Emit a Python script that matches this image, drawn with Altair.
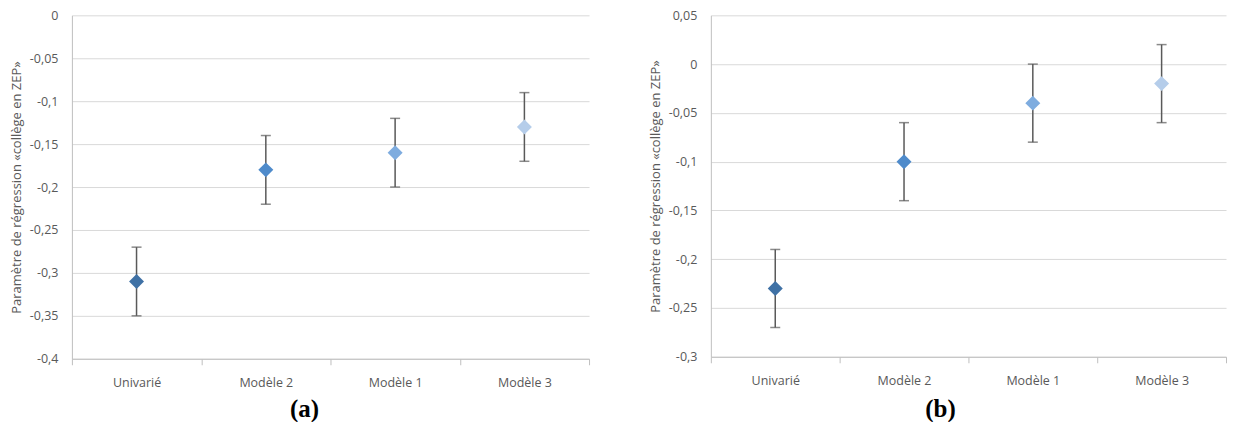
import altair as alt
import pandas as pd

categories = ["Univarié", "Modèle 2", "Modèle 1", "Modèle 3"]
colors = ["#3F71A5", "#4F8BCB", "#7EACDF", "#B5CDEA"]

a_est = [-0.31, -0.18, -0.16, -0.13]
a_lo = [-0.35, -0.22, -0.20, -0.17]
a_hi = [-0.27, -0.14, -0.12, -0.09]
a_ticks = [0, -0.05, -0.1, -0.15, -0.2, -0.25, -0.3, -0.35, -0.4]

b_est = [-0.23, -0.10, -0.04, -0.02]
b_lo = [-0.27, -0.14, -0.08, -0.06]
b_hi = [-0.19, -0.06, 0.00, 0.02]
b_ticks = [0.05, 0, -0.05, -0.1, -0.15, -0.2, -0.25, -0.3]

y_title = "Paramètre de régression «collège en ZEP»"
FONT = "Open Sans"
GREY = "#595959"


def panel(est, lo, hi, ticks, w, h, tag, tag_x, tag_y):
    df = pd.DataFrame({"cat": categories, "est": est, "lo": lo, "hi": hi})
    dom = [min(ticks), max(ticks)]

    def X():
        return alt.X(
            "cat:N",
            sort=categories,
            scale=alt.Scale(paddingInner=0, paddingOuter=0),
            axis=alt.Axis(
                title=None, labelAngle=0, tickBand="extent", tickSize=6,
                tickColor="#BFBFBF", domainColor="#BFBFBF", labelColor=GREY,
                labelFont=FONT, labelFontSize=12.5, labelPadding=12, grid=False,
            ),
        )

    def Y(field):
        return alt.Y(
            field + ":Q",
            scale=alt.Scale(domain=dom, nice=False, zero=False),
            axis=alt.Axis(
                values=ticks, title=y_title,
                labelExpr="replace(toString(datum.value), '.', ',')",
                ticks=False, domainColor="#BFBFBF", gridColor="#D9D9D9",
                labelColor=GREY, labelFont=FONT, labelFontSize=12.5,
                labelPadding=14, titlePadding=6, titleFont=FONT,
                titleFontSize=13, titleFontWeight="normal", titleColor=GREY,
            ),
        )

    base = alt.Chart(df)
    rules = base.mark_rule(color=GREY, strokeWidth=1.5).encode(
        x=X(), y=Y("lo"), y2="hi:Q"
    )
    cap_lo = base.mark_tick(color=GREY, size=10, thickness=1.5).encode(x=X(), y=Y("lo"))
    cap_hi = base.mark_tick(color=GREY, size=10, thickness=1.5).encode(x=X(), y=Y("hi"))
    pts = base.mark_point(shape="diamond", filled=True, size=225, opacity=1).encode(
        x=X(), y=Y("est"),
        color=alt.Color("cat:N", scale=alt.Scale(domain=categories, range=colors), legend=None),
    )
    label = alt.Chart(pd.DataFrame({"t": [tag]})).mark_text(
        font="Liberation Serif", fontWeight="bold", fontSize=25, color="black"
    ).encode(x=alt.value(tag_x), y=alt.value(tag_y), text="t:N")
    return alt.layer(rules, cap_lo, cap_hi, pts, label).properties(width=w, height=h)


pa = panel(a_est, a_lo, a_hi, a_ticks, 518, 344, "(a)", 233, 394)
pb = panel(b_est, b_lo, b_hi, b_ticks, 516, 342, "(b)", 230, 394)

chart = (
    alt.hconcat(pa, pb, spacing=59)
    .properties(padding={"left": 2, "top": 1, "right": 0, "bottom": 0})
    .configure_view(stroke=None)
)

chart.save("out.html", embed_options={"renderer": "svg", "actions": False})
